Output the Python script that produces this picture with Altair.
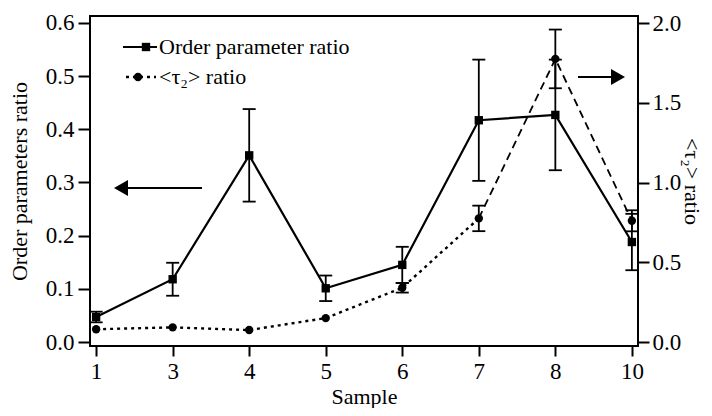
import altair as alt
import pandas as pd

# ---- data ----
samples = ["1", "3", "4", "5", "6", "7", "8", "10"]
order_ratio = [0.047, 0.118, 0.351, 0.101, 0.145, 0.417, 0.427, 0.188]
order_err = [0.010, 0.031, 0.087, 0.024, 0.034, 0.114, 0.104, 0.053]
tau_ratio = [0.080, 0.092, 0.075, 0.150, 0.340, 0.775, 1.775, 0.760]
tau_err = [0.0, 0.0, 0.0, 0.0, 0.030, 0.080, 0.184, 0.066]
legend_labels = ["Order parameter ratio", "<τ₂> ratio"]

FONT = "Liberation Serif"
W, H = 548, 330

df = pd.DataFrame({
    "sample": samples,
    "order": order_ratio,
    "oerr": order_err,
    "tau": tau_ratio,
    "terr": tau_err,
})
df["idx"] = range(len(df))
df["olo"] = df["order"] - df["oerr"]
df["ohi"] = df["order"] + df["oerr"]
df["tlo"] = df["tau"] - df["terr"]
df["thi"] = df["tau"] + df["terr"]
df_terr = df[df["terr"] > 0]
seg_a = df[df["idx"] <= 5]
seg_b = df[df["idx"] >= 5]

x_enc = alt.X(
    "sample:O",
    sort=samples,
    scale=alt.Scale(type="point", padding=0.08),
    axis=alt.Axis(title="Sample", labelAngle=0, titlePadding=3, labelPadding=4, tickSize=10),
)
yL = alt.Scale(domain=[-0.0075, 0.613], nice=False, zero=False)
yR = alt.Scale(domain=[-0.025, 2.044], nice=False, zero=False)

left_axis = alt.Axis(
    title="Order parameters ratio",
    values=[0, 0.1, 0.2, 0.3, 0.4, 0.5, 0.6],
    format=".1f",
    orient="left",
    titlePadding=14,
)
right_axis = alt.Axis(
    title="<τ₂> ratio",
    values=[0, 0.5, 1.0, 1.5, 2.0],
    format=".1f",
    orient="right",
    tickSize=11,
    labelPadding=3,
    titleAngle=90,
    titleAlign="center",
    titleBaseline="middle",
    titleX=53,
    titleY=H / 2,
)

# ---- left (order parameter) layers ----
o_base = alt.Chart(df).encode(x=x_enc)
o_err = o_base.mark_rule(color="black", strokeWidth=1.8).encode(
    y=alt.Y("olo:Q", scale=yL, axis=left_axis), y2="ohi:Q"
)
o_cap1 = o_base.mark_tick(color="black", size=13, thickness=1.8, opacity=1).encode(
    y=alt.Y("olo:Q", scale=yL)
)
o_cap2 = o_base.mark_tick(color="black", size=13, thickness=1.8, opacity=1).encode(
    y=alt.Y("ohi:Q", scale=yL)
)
o_line = o_base.mark_line(color="black", strokeWidth=2.2).encode(
    y=alt.Y("order:Q", scale=yL)
)
o_pts = o_base.mark_point(
    shape="square", filled=True, size=70, color="black", opacity=1
).encode(y=alt.Y("order:Q", scale=yL))
left = alt.layer(o_err, o_cap1, o_cap2, o_line, o_pts)

# ---- right (tau) layers ----
t_err = alt.Chart(df_terr).mark_rule(color="black", strokeWidth=1.8).encode(
    x=x_enc, y=alt.Y("tlo:Q", scale=yR, axis=right_axis), y2="thi:Q"
)
t_cap1 = alt.Chart(df_terr).mark_tick(color="black", size=13, thickness=1.8, opacity=1).encode(
    x=x_enc, y=alt.Y("tlo:Q", scale=yR)
)
t_cap2 = alt.Chart(df_terr).mark_tick(color="black", size=13, thickness=1.8, opacity=1).encode(
    x=x_enc, y=alt.Y("thi:Q", scale=yR)
)
t_line_a = alt.Chart(seg_a).mark_line(color="black", strokeWidth=2.4, strokeDash=[3, 4]).encode(
    x=x_enc, y=alt.Y("tau:Q", scale=yR)
)
t_line_b = alt.Chart(seg_b).mark_line(color="black", strokeWidth=1.8, strokeDash=[8, 5]).encode(
    x=x_enc, y=alt.Y("tau:Q", scale=yR)
)
t_pts = alt.Chart(df).mark_point(
    shape="circle", filled=True, size=70, color="black", opacity=1
).encode(x=x_enc, y=alt.Y("tau:Q", scale=yR))
right = alt.layer(t_err, t_cap1, t_cap2, t_line_a, t_line_b, t_pts)

# ---- annotations: legend and arrows (pixel positions inside the plot) ----
one = pd.DataFrame({"k": [0]})
lg = alt.Chart(one)
leg_line1 = lg.mark_rule(color="black", strokeWidth=2.2).encode(
    x=alt.value(33), x2=alt.value(67), y=alt.value(31)
)
leg_sq = lg.mark_point(shape="square", filled=True, size=70, color="black", opacity=1).encode(
    x=alt.value(56), y=alt.value(31)
)
leg_text1 = lg.mark_text(
    text=legend_labels[0], align="left", baseline="middle", font=FONT, fontSize=22, color="black"
).encode(x=alt.value(69), y=alt.value(31))
leg_line2 = lg.mark_rule(color="black", strokeWidth=2.4, strokeDash=[3, 4]).encode(
    x=alt.value(36), x2=alt.value(66), y=alt.value(61)
)
leg_ci = lg.mark_point(shape="circle", filled=True, size=70, color="black", opacity=1).encode(
    x=alt.value(48), y=alt.value(61)
)
leg_text2 = lg.mark_text(
    text=legend_labels[1], align="left", baseline="middle", font=FONT, fontSize=22, color="black"
).encode(x=alt.value(69), y=alt.value(61))

arr_l_line = lg.mark_rule(color="black", strokeWidth=2).encode(
    x=alt.value(36), x2=alt.value(112), y=alt.value(172)
)
arr_l_head = lg.mark_point(shape="triangle-left", filled=True, size=260, color="black", opacity=1).encode(
    x=alt.value(31), y=alt.value(172)
)
arr_r_line = lg.mark_rule(color="black", strokeWidth=2).encode(
    x=alt.value(488), x2=alt.value(526), y=alt.value(61)
)
arr_r_head = lg.mark_point(shape="triangle-right", filled=True, size=260, color="black", opacity=1).encode(
    x=alt.value(528), y=alt.value(61)
)
annot = alt.layer(
    leg_line1, leg_sq, leg_text1, leg_line2, leg_ci, leg_text2,
    arr_l_line, arr_l_head, arr_r_line, arr_r_head,
)

chart = (
    alt.layer(left, right, annot)
    .resolve_scale(y="independent")
    .properties(
        width=W,
        height=H,
        autosize=alt.AutoSizeParams(type="none"),
        padding={"left": 82, "top": 8, "right": 66, "bottom": 62},
        background="white",
    )
    .configure_view(stroke="black", strokeWidth=2)
    .configure_axis(
        grid=False,
        domain=False,
        labelFont=FONT,
        labelFontSize=23,
        labelColor="black",
        titleFont=FONT,
        titleFontSize=22,
        titleFontWeight="normal",
        titleColor="black",
        tickColor="black",
        tickSize=12,
        tickWidth=2,
        labelPadding=4,
    )
)

chart.save("out.html", embed_options={"renderer": "svg", "actions": False})
